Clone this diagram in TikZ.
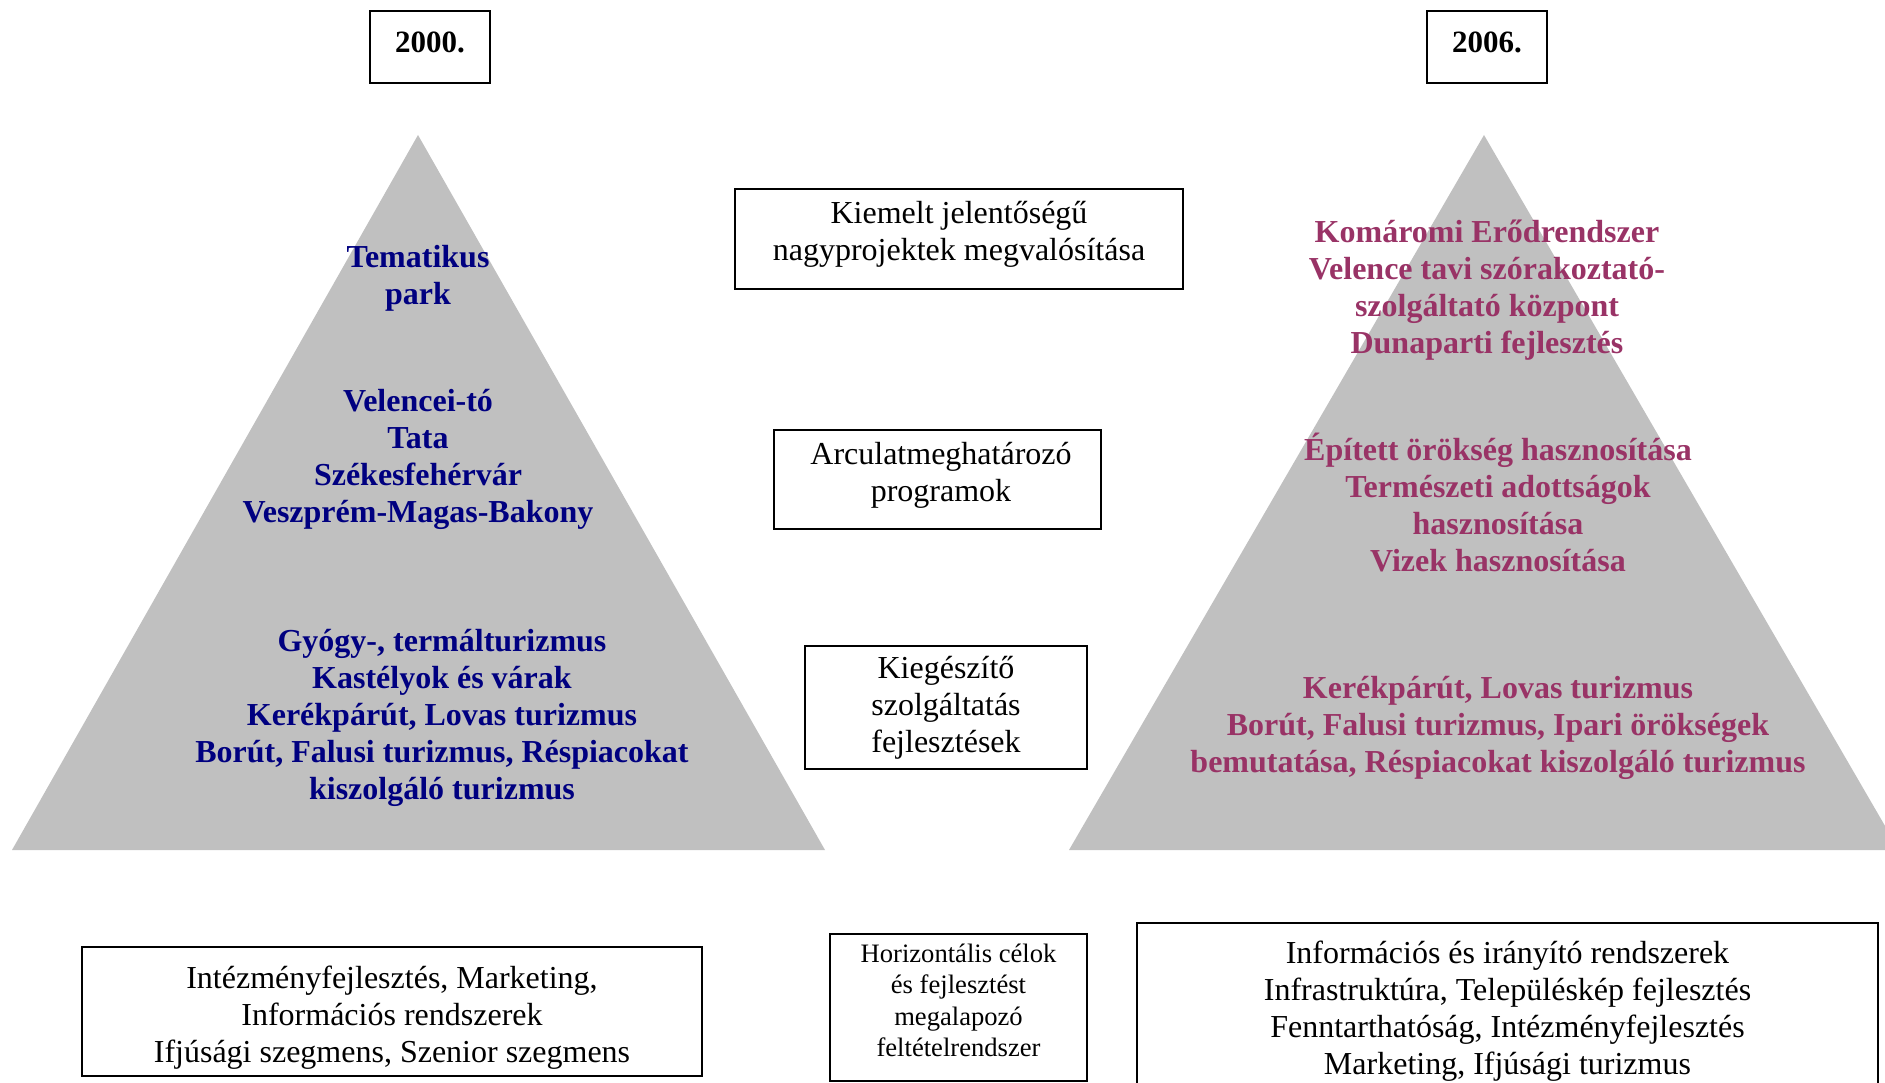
\documentclass[tikz,border=0pt]{standalone}
\usepackage{fontspec}
\setmainfont{Liberation Serif}
\definecolor{navyt}{HTML}{000080}
\definecolor{plumt}{HTML}{993366}
\definecolor{trig}{HTML}{C0C0C0}
\begin{document}
\begin{tikzpicture}[x=1pt,y=-1pt,
  box/.style={draw,line width=2.2pt,inner sep=0pt},
  boxtxt/.style={align=center,inner sep=0pt,font=\fontsize{32}{37}\selectfont},
  smalltxt/.style={align=center,inner sep=0pt,font=\fontsize{26.6}{31.5}\selectfont},
  yeartxt/.style={align=center,inner sep=0pt,font=\bfseries\fontsize{31}{37}\selectfont},
  bluetxt/.style={text=navyt,font=\bfseries\fontsize{32}{37}\selectfont,align=center,inner sep=0pt},
  plumtxt/.style={text=plumt,font=\bfseries\fontsize{32}{37}\selectfont,align=center,inner sep=0pt}]
\useasboundingbox (0,0) rectangle (1885,1083);
\clip (0,0) rectangle (1885,1083);
% pyramids
\fill[trig] (418,135) -- (825,850) -- (12,850) -- cycle;
\fill[trig] (1484,135) -- (1899,850) -- (1069,850) -- cycle;
% year boxes
\node[box,minimum width=120,minimum height=72] (y2000) at (430,47) {};
\node[yeartxt] (y2000t) at (430,42) {2000.};
\node[box,minimum width=120,minimum height=72] (y2006) at (1487,47) {};
\node[yeartxt] (y2006t) at (1487,42) {2006.};
% left pyramid text
\node[bluetxt] (l1) at (418,278) {Tematikus\\park};
\node[bluetxt] (l2) at (418,459) {Velencei-tó\\Tata\\Székesfehérvár\\Veszprém-Magas-Bakony};
\node[bluetxt] (l3) at (442,718) {Gyógy-, termálturizmus\\Kastélyok és várak\\Kerékpárút, Lovas turizmus\\Borút, Falusi turizmus, Réspiacokat\\kiszolgáló turizmus};
% right pyramid text
\node[plumtxt] (r1) at (1487,290) {Komáromi Erődrendszer\\Velence tavi szórakoztató-\\szolgáltató központ\\Dunaparti fejlesztés};
\node[plumtxt] (r2) at (1498,503) {Épített örökség hasznosítása\\Természeti adottságok\\hasznosítása\\Vizek hasznosítása};
\node[plumtxt] (r3) at (1498,728) {Kerékpárút, Lovas turizmus\\Borút, Falusi turizmus, Ipari örökségek\\bemutatása, Réspiacokat kiszolgáló turizmus};
% middle boxes
\node[box,minimum width=448,minimum height=100] (kiemelt) at (959,239) {};
\node[boxtxt] (kiemeltt) at (959,234) {Kiemelt jelentőségű\\nagyprojektek megvalósítása};
\node[box,minimum width=327,minimum height=99] (arculat) at (937.5,479.5) {};
\node[boxtxt] (arculatt) at (941,475) {Arculatmeghatározó\\programok};
\node[box,minimum width=282,minimum height=123] (kieg) at (946,707.5) {};
\node[boxtxt] (kiegt) at (946,707.5) {Kiegészítő\\szolgáltatás\\fejlesztések};
\node[box,minimum width=257,minimum height=147] (horiz) at (958.5,1007.5) {};
\node[smalltxt] (horizt) at (958.5,1000.5) {Horizontális célok\\és fejlesztést\\megalapozó\\feltételrendszer};
% bottom boxes
\node[box,minimum width=620,minimum height=129] (lbottom) at (392,1011.5) {};
\node[boxtxt] (lbottomt) at (392,1017.5) {Intézményfejlesztés, Marketing,\\Információs rendszerek\\Ifjúsági szegmens, Szenior szegmens};
\node[box,minimum width=741,minimum height=176] (rbottom) at (1507.5,1011) {};
\node[boxtxt] (rbottomt) at (1507.5,1011) {Információs és irányító rendszerek\\Infrastruktúra, Településkép fejlesztés\\Fenntarthatóság, Intézményfejlesztés\\Marketing, Ifjúsági turizmus};
\end{tikzpicture}
\end{document}
